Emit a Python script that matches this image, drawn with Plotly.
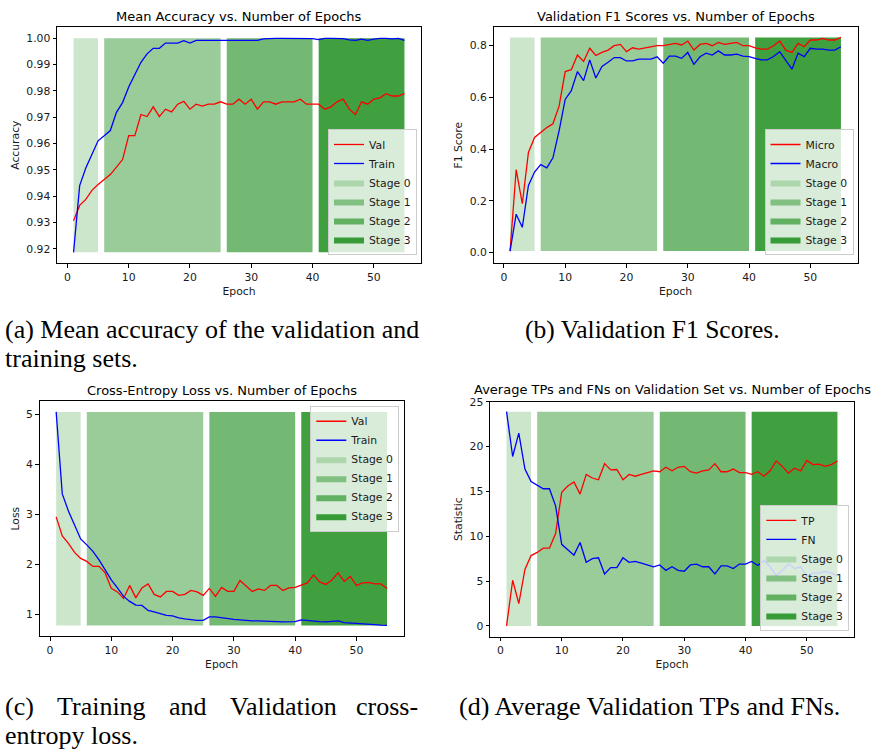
import plotly.graph_objects as go

W, H = 874, 749
epochs = list(range(1, 56))

acc_val = [0.9307, 0.9365, 0.9388, 0.9422, 0.9444, 0.9463, 0.9482, 0.9510, 0.9539, 0.9630,
           0.9630, 0.9710, 0.9702, 0.9739, 0.9702, 0.9730, 0.9720, 0.9749, 0.9760, 0.9730,
           0.9749, 0.9742, 0.9749, 0.9749, 0.9758, 0.9749, 0.9749, 0.9768, 0.9749, 0.9768,
           0.9730, 0.9758, 0.9758, 0.9749, 0.9758, 0.9758, 0.9758, 0.9768, 0.9749, 0.9749,
           0.9749, 0.9730, 0.9739, 0.9758, 0.9768, 0.9730, 0.9710, 0.9758, 0.9749, 0.9768,
           0.9773, 0.9789, 0.9780, 0.9780, 0.9789]
acc_train = [0.9187, 0.9440, 0.9507, 0.9557, 0.9610, 0.9629, 0.9649, 0.9718, 0.9755, 0.9814,
             0.9861, 0.9908, 0.9940, 0.9961, 0.9961, 0.9981, 0.9981, 0.9981, 0.9990, 0.9981,
             0.9991, 0.9991, 0.9991, 0.9991, 0.9991, 0.9991, 0.9991, 0.9991, 0.9991, 0.9991,
             0.9991, 0.9997, 0.9999, 0.9999, 0.9999, 0.9999, 0.9999, 0.9999, 0.9999, 0.9998,
             0.9994, 0.9999, 0.9999, 0.9999, 0.9998, 0.9993, 0.9991, 0.9996, 0.9991, 0.9996,
             0.9999, 0.9999, 0.9997, 0.9999, 0.9991]

f1_micro = [0.005, 0.320, 0.189, 0.387, 0.445, 0.464, 0.483, 0.498, 0.566, 0.700,
            0.707, 0.764, 0.739, 0.790, 0.762, 0.774, 0.783, 0.800, 0.805, 0.777,
            0.792, 0.787, 0.792, 0.796, 0.800, 0.800, 0.805, 0.809, 0.803, 0.818,
            0.783, 0.805, 0.809, 0.800, 0.813, 0.805, 0.809, 0.813, 0.800, 0.800,
            0.792, 0.787, 0.787, 0.800, 0.818, 0.783, 0.774, 0.809, 0.796, 0.822,
            0.822, 0.828, 0.822, 0.822, 0.832]
f1_macro = [0.005, 0.148, 0.097, 0.259, 0.311, 0.340, 0.327, 0.366, 0.470, 0.592,
            0.626, 0.700, 0.665, 0.745, 0.675, 0.720, 0.736, 0.754, 0.754, 0.741,
            0.741, 0.748, 0.748, 0.748, 0.757, 0.732, 0.760, 0.760, 0.751, 0.774,
            0.728, 0.757, 0.771, 0.764, 0.780, 0.764, 0.764, 0.767, 0.760, 0.758,
            0.751, 0.745, 0.745, 0.758, 0.777, 0.741, 0.709, 0.771, 0.758, 0.790,
            0.787, 0.787, 0.783, 0.783, 0.796]

loss_val = [2.95, 2.57, 2.42, 2.24, 2.12, 2.06, 1.96, 1.96, 1.83, 1.52,
            1.45, 1.32, 1.58, 1.33, 1.53, 1.61, 1.40, 1.35, 1.46, 1.46,
            1.38, 1.40, 1.48, 1.45, 1.38, 1.52, 1.36, 1.54, 1.46, 1.46,
            1.68, 1.56, 1.46, 1.51, 1.48, 1.58, 1.58, 1.48, 1.53, 1.54,
            1.58, 1.63, 1.79, 1.65, 1.60, 1.69, 1.83, 1.66, 1.76, 1.58,
            1.63, 1.64, 1.61, 1.61, 1.52]
loss_train = [5.05, 3.41, 3.07, 2.78, 2.51, 2.39, 2.26, 2.09, 1.89, 1.69,
              1.53, 1.36, 1.26, 1.185, 1.18, 1.08, 1.05, 1.01, 0.98, 0.97,
              0.93, 0.91, 0.89, 0.88, 0.88, 0.95, 0.95, 0.93, 0.91, 0.90,
              0.89, 0.875, 0.87, 0.87, 0.86, 0.855, 0.855, 0.85, 0.85, 0.855,
              0.89, 0.875, 0.87, 0.855, 0.85, 0.855, 0.87, 0.835, 0.83, 0.815,
              0.81, 0.80, 0.795, 0.785, 0.78]

tp = [0.0, 5.1, 2.5, 6.3, 7.85, 8.2, 8.67, 8.67, 10.3, 14.9,
      15.6, 16.05, 14.7, 16.9, 16.5, 16.3, 18.1, 17.4, 17.45, 16.3,
      16.9, 16.7, 16.9, 17.1, 17.3, 17.2, 17.7, 17.3, 17.7, 17.8,
      17.2, 17.05, 17.3, 17.4, 18.1, 17.2, 17.2, 17.5, 17.1, 17.1,
      16.9, 17.2, 16.7, 17.3, 18.4, 17.8, 17.05, 17.6, 17.3, 18.45,
      18.0, 18.05, 17.8, 18.0, 18.4]
fn = [23.9, 18.9, 21.5, 17.5, 16.1, 15.7, 15.3, 15.3, 13.4, 9.1,
      8.5, 7.9, 9.3, 7.1, 7.5, 7.6, 5.8, 6.5, 6.5, 7.6,
      7.1, 7.2, 7.0, 6.8, 6.6, 6.8, 6.2, 6.6, 6.2, 6.1,
      6.8, 6.9, 6.6, 6.6, 5.8, 6.7, 6.7, 6.4, 6.9, 6.9,
      7.2, 6.75, 7.3, 6.6, 5.6, 6.2, 6.9, 6.4, 6.6, 5.5,
      5.9, 5.9, 6.1, 5.9, 5.6]

stage_names = ["Stage 0", "Stage 1", "Stage 2", "Stage 3"]
stage_start = [1, 6, 26, 41]
stage_end = [5, 25, 40, 55]
stage_alpha = [0.2, 0.4, 0.55, 0.75]

panels = [
    dict(title="Mean Accuracy vs. Number of Epochs", ylabel="Accuracy",
         series=[("Val", acc_val, "#ff0000"), ("Train", acc_train, "#0000ff")],
         box=(57, 421, 21.4, 259.2), yrange=[0.9146, 1.0041], dtick=0.01, fmt=".2f",
         leg=(417, 251, "right", "bottom"), ty=10.5),
    dict(title="Validation F1 Scores vs. Number of Epochs", ylabel="F1 Score",
         series=[("Micro", f1_micro, "#ff0000"), ("Macro", f1_macro, "#0000ff")],
         box=(493.5, 857.5, 21.4, 259.2), yrange=[-0.0415, 0.8715], dtick=0.2, fmt=".1f",
         leg=(853.5, 251, "right", "bottom"), ty=10.5),
    dict(title="Cross-Entropy Loss vs. Number of Epochs", ylabel="Loss",
         series=[("Val", loss_val, "#ff0000"), ("Train", loss_train, "#0000ff")],
         box=(39.6, 403.6, 398.4, 635.2), yrange=[0.566, 5.264], dtick=1, fmt="d",
         leg=(399.3, 403, "right", "top"), ty=387.3),
    dict(title="Average TPs and FNs on Validation Set vs. Number of Epochs", ylabel="Statistic",
         series=[("TP", tp, "#ff0000"), ("FN", fn, "#0000ff")],
         box=(490, 854, 399, 635.7), yrange=[-1.19, 25.0], dtick=5, fmt="d",
         leg=(849.3, 630, "right", "bottom"), ty=386.7),
]

FONT = "DejaVu Sans"
TXT = "#1a1a1a"
fig = go.Figure()
layout = dict(width=W, height=H, margin=dict(l=0, r=0, t=0, b=0),
              paper_bgcolor="white", plot_bgcolor="white", showlegend=True,
              font=dict(family=FONT, size=10.8, color=TXT))
annotations = []

for i, p in enumerate(panels):
    n = i + 1
    sfx = "" if n == 1 else str(n)
    xa, ya = "x" + sfx, "y" + sfx
    legname = "legend" + sfx
    allv = p["series"][0][1] + p["series"][1][1]
    lo, hi = min(allv), max(allv)
    for k in range(4):
        s, e = stage_start[k], stage_end[k]
        fig.add_trace(go.Scatter(
            x=[s, e, e, s, s], y=[lo, lo, hi, hi, lo], mode="lines", fill="toself",
            fillcolor="rgba(0,128,0,%s)" % stage_alpha[k], line=dict(width=0),
            name=stage_names[k], xaxis=xa, yaxis=ya, legend=legname,
            legendrank=10 + k, hoverinfo="skip"))
    for j, (nm, vals, col) in enumerate(p["series"]):
        fig.add_trace(go.Scatter(
            x=epochs, y=vals, mode="lines", line=dict(color=col, width=1.3),
            name=nm, xaxis=xa, yaxis=ya, legend=legname, legendrank=1 + j))
    l, r, t, b = p["box"]
    axcommon = dict(showline=True, mirror=True, linecolor="black", linewidth=1,
                    ticks="outside", ticklen=3.5, tickwidth=0.8, tickcolor="black",
                    showgrid=False, zeroline=False,
                    tickfont=dict(family=FONT, size=10.8, color=TXT))
    layout["xaxis" + sfx] = dict(
        axcommon, domain=[l / W, r / W], range=[-1.7, 57.7], anchor=ya,
        tick0=0, dtick=10,
        title=dict(text="Epoch", standoff=4, font=dict(family=FONT, size=10.8, color=TXT)))
    layout["yaxis" + sfx] = dict(
        axcommon, domain=[1 - b / H, 1 - t / H], range=p["yrange"], anchor=xa,
        tick0=0, dtick=p["dtick"], tickformat=p["fmt"],
        title=dict(text=p["ylabel"], standoff=4, font=dict(family=FONT, size=10.8, color=TXT)))
    lx, ly, xan, yan = p["leg"]
    layout[legname] = dict(
        x=lx / W, y=1 - ly / H, xanchor=xan, yanchor=yan, xref="paper", yref="paper",
        bgcolor="rgba(255,255,255,0.8)", bordercolor="#cccccc", borderwidth=1,
        font=dict(family=FONT, size=10.8, color=TXT), traceorder="normal",
        tracegroupgap=0)
    annotations.append(dict(
        text=p["title"], xref="paper", yref="paper", x=(l + r) / 2 / W, y=1 - p["ty"] / H,
        xanchor="center", yanchor="middle", showarrow=False,
        font=dict(family=FONT, size=13, color="black")))


def cap(text, x, y, xanchor="left", size=26):
    annotations.append(dict(text=text, xref="paper", yref="paper", x=x / W, y=1 - y / H,
                            xanchor=xanchor, yanchor="middle", showarrow=False,
                            font=dict(family="Liberation Serif", size=size, color="black")))


cap("(a) Mean accuracy of the validation and", 3, 326)
cap("training sets.", 3, 355)
cap("(b) Validation F1 Scores.", 523, 326, size=25.5)
cap("(c)", 3, 706)
cap("Training", 55, 706)
cap("and", 167, 706)
cap("Validation", 228, 706)
cap("cross-", 420, 706, "right")
cap("entropy loss.", 3, 735)
cap("(d) Average Validation TPs and FNs.", 457, 706)

layout["annotations"] = annotations
fig.update_layout(**layout)
fig.write_html("out.html",
               config={"displayModeBar": False},
               post_script="document.body.style.margin='0';document.body.style.padding='0';")
